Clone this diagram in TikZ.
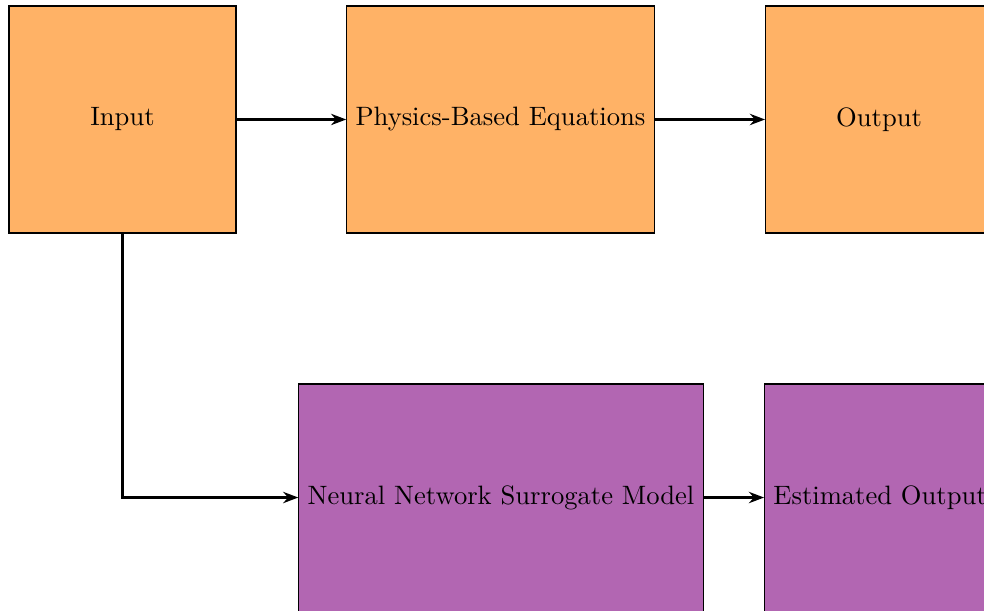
\documentclass[tikz,border=0pt]{standalone}
\usetikzlibrary{positioning,arrows.meta}
\begin{document}
\begin{tikzpicture}[
  orangebox/.style={draw=black, fill=orange!60, minimum width=3cm, minimum height=3cm, inner sep=3.33pt},
  purplebox/.style={draw=black, fill=violet!60, minimum width=3cm, minimum height=3cm, inner sep=3.33pt},
  conn/.style={-{Stealth[length=2mm,width=1.5mm]}, thick}
]
\useasboundingbox (0,0) rectangle (13.004,-8.074);
\node[orangebox] (input) at (1.619,-1.579) {Input};
\node[orangebox] (phys) at (6.614,-1.579) {Physics-Based Equations};
\node[orangebox, anchor=west] (out) at (10.110,-1.579) {Output};
\node[purplebox] (nn) at (6.621,-6.575) {Neural Network Surrogate Model};
\node[purplebox, anchor=west] (est) at (10.097,-6.575) {Estimated Output};
\draw[conn] (input) -- (phys);
\draw[conn] (phys) -- (out);
\draw[conn] (input.south) |- (nn.west);
\draw[conn] (nn) -- (est);
\end{tikzpicture}
\end{document}
